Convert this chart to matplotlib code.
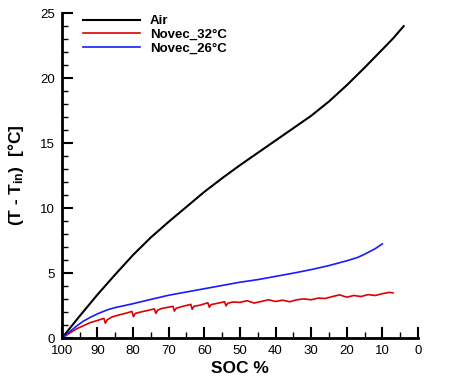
import matplotlib.pyplot as plt
from matplotlib.ticker import MultipleLocator

plt.rcParams['font.family'] = ['Liberation Sans', 'DejaVu Sans']
plt.rcParams['mathtext.fontset'] = 'custom'
plt.rcParams['mathtext.rm'] = 'Liberation Sans:bold'
plt.rcParams['mathtext.bf'] = 'Liberation Sans:bold'
plt.rcParams['mathtext.default'] = 'regular'

# Air
air_soc = [100, 95, 90, 85, 80, 75, 70, 65, 60, 55, 50, 45, 40, 35, 30, 25,
           20, 15, 10, 7, 4]
air_dt = [0, 1.7, 3.35, 4.9, 6.4, 7.75, 8.95, 10.1, 11.25, 12.3, 13.3, 14.25,
          15.2, 16.15, 17.1, 18.2, 19.45, 20.8, 22.2, 23.05, 24.0]

# Novec 26 C
n26_soc = [100, 98, 96, 94, 92, 90, 87, 85, 80, 75, 70, 65, 60, 55, 50, 45,
           40, 35, 30, 25, 20, 17, 15, 12, 10]
n26_dt = [0, 0.45, 0.9, 1.3, 1.6, 1.87, 2.2, 2.35, 2.65, 2.98, 3.3, 3.55,
          3.8, 4.05, 4.3, 4.5, 4.75, 5.0, 5.27, 5.58, 5.95, 6.2, 6.45, 6.88, 7.25]

# Novec 32 C (sawtooth dips and wiggle kept as read)
n32_soc = [100, 98, 96, 94, 92, 90, 88.2, 87.8, 87.3, 86, 84, 82, 80.3, 79.9,
           79.4, 78, 76, 74, 73.6, 73.1, 72, 70, 68.8, 68.4, 67.9, 66, 64, 63.8,
           63.4, 62.9, 61, 59, 58.6, 58.1, 56, 54.3, 53.9, 53.4, 52, 50, 48, 46,
           44, 42, 40, 38, 36, 34, 32, 30, 28, 26, 24, 22, 20, 18, 16, 14, 12,
           10, 8, 7]
n32_dt = [0, 0.35, 0.7, 0.95, 1.2, 1.36, 1.52, 1.15, 1.4, 1.62, 1.78, 1.92,
          2.05, 1.65, 1.9, 2.0, 2.12, 2.25, 1.9, 2.15, 2.28, 2.38, 2.45, 2.08,
          2.3, 2.45, 2.58, 2.6, 2.22, 2.45, 2.55, 2.72, 2.38, 2.58, 2.7, 2.8,
          2.48, 2.68, 2.78, 2.75, 2.88, 2.7, 2.82, 2.95, 2.82, 2.92, 2.8, 2.95,
          3.02, 2.95, 3.08, 3.05, 3.2, 3.33, 3.15, 3.28, 3.2, 3.35, 3.28, 3.42,
          3.52, 3.48]

fig = plt.figure(figsize=(4.76, 3.86), dpi=100)
ax = fig.add_axes([0.130, 0.124, 0.748, 0.842])

ax.plot(air_soc, air_dt, color='black', lw=1.5, label='Air')
ax.plot(n32_soc, n32_dt, color='#dd0000', lw=1.2, label='Novec_32°C')
ax.plot(n26_soc, n26_dt, color='#1a1aff', lw=1.2, label='Novec_26°C')

ax.set_xlim(100, 0)
ax.set_ylim(0, 25)
ax.xaxis.set_major_locator(MultipleLocator(10))
ax.xaxis.set_minor_locator(MultipleLocator(5))
ax.yaxis.set_major_locator(MultipleLocator(5))
ax.yaxis.set_minor_locator(MultipleLocator(1))

for s in ['top', 'right']:
    ax.spines[s].set_visible(False)
for s in ['left', 'bottom']:
    ax.spines[s].set_linewidth(2)

ax.tick_params(which='major', direction='in', length=8, width=1.5, labelsize=9.5, pad=5)
ax.tick_params(which='minor', direction='in', length=4, width=1)

ax.set_xlabel('SOC %', fontsize=12.5, fontweight='bold', labelpad=3)
ax.set_ylabel(r'(T - T$_{in}$)  [°C]', fontsize=12.5, fontweight='bold', labelpad=10)

leg = ax.legend(loc='upper left', bbox_to_anchor=(0.026, 1.03), frameon=False,
                handlelength=4.3, handletextpad=0.75, labelspacing=0.1,
                prop={'weight': 'bold', 'size': 9.5})

fig.savefig('out.png', dpi=100)
